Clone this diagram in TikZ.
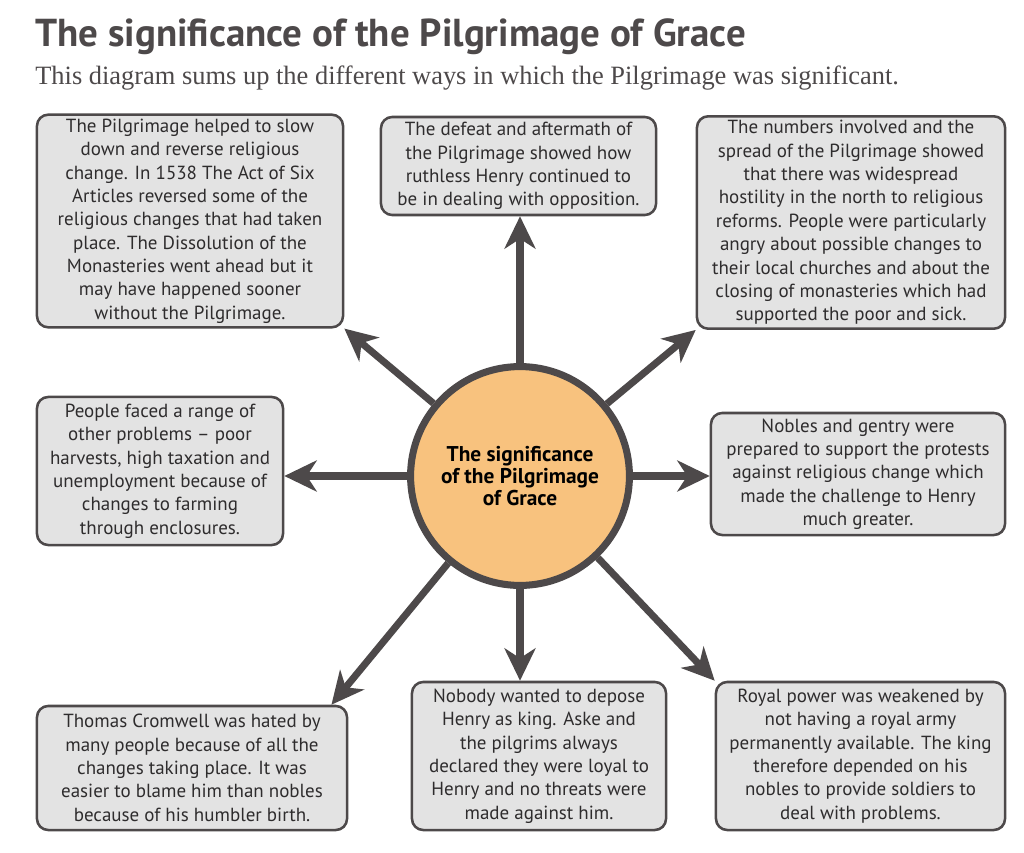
\documentclass[tikz,border=0pt]{standalone}
\usepackage{fontspec}
\setmainfont{PT Sans}
\newfontfamily\subtitlefont{Liberation Serif}
\usetikzlibrary{arrows.meta}

\definecolor{inkgrey}{HTML}{4D494A}
\definecolor{boxgrey}{HTML}{E3E3E3}
\definecolor{hubfill}{HTML}{F8C27E}
\definecolor{textgrey}{HTML}{2E2C2D}

\begin{document}
\begin{tikzpicture}[
  x=0.025cm, y=-0.025cm,
  spoke/.style={-{Stealth[length=23pt, width=22pt, inset=7pt]}, line width=5pt, draw=inkgrey},
  note/.style={
    rectangle,
    rounded corners=8pt,
    draw=inkgrey,
    line width=1.8pt,
    fill=boxgrey,
    align=center,
    inner sep=3pt,
    text=textgrey,
    font=\fontsize{13.5}{16.6}\selectfont
  },
  hub/.style={
    circle,
    draw=inkgrey,
    line width=5pt,
    fill=hubfill,
    minimum size=5.47cm,
    inner sep=0pt,
    align=center,
    text=black,
    font=\fontsize{15.2}{15.8}\selectfont\bfseries
  },
  heading/.style={anchor=base west, inner sep=0pt, text=inkgrey}
]
  \useasboundingbox (0,0) rectangle (1024,853);

  \node[heading, font=\fontsize{27.7}{32}\selectfont\bfseries] (title) at (35,47)
    {The significance of the Pilgrimage of Grace};
  \node[heading, font=\fontsize{18.8}{22}\subtitlefont] (subtitle) at (35,85)
    {This diagram sums up the different ways in which the Pilgrimage was significant.};

  \node[hub] (hub) at (520,476) {The significance\\of the Pilgrimage\\of Grace};

  \node[note, minimum width=7.65cm, minimum height=5.2cm] (religion) at (190,221)
    {The Pilgrimage helped to slow\\down and reverse religious\\change. In 1538 The Act of Six\\Articles reversed some of the\\religious changes that had taken\\place. The Dissolution of the\\Monasteries went ahead but it\\may have happened sooner\\without the Pilgrimage.};
  \node[note, minimum width=6.875cm, minimum height=2.45cm] (defeat) at (518.5,166)
    {The defeat and aftermath of\\the Pilgrimage showed how\\ruthless Henry continued to\\be in dealing with opposition.};
  \node[note, minimum width=7.7cm, minimum height=5.275cm] (hostility) at (851,222.5)
    {The numbers involved and the\\spread of the Pilgrimage showed\\that there was widespread\\hostility in the north to religious\\reforms. People were particularly\\angry about possible changes to\\their local churches and about the\\closing of monasteries which had\\supported the poor and sick.};
  \node[note, minimum width=6.15cm, minimum height=3.7cm] (problems) at (160,471)
    {People faced a range of\\other problems -- poor\\harvests, high taxation and\\unemployment because of\\changes to farming\\through enclosures.};
  \node[note, minimum width=7.35cm, minimum height=3.05cm] (nobles) at (858,474)
    {Nobles and gentry were\\prepared to support the protests\\against religious change which\\made the challenge to Henry\\much greater.};
  \node[note, minimum width=7.75cm, minimum height=3.1cm] (cromwell) at (192,768)
    {Thomas Cromwell was hated by\\many people because of all the\\changes taking place. It was\\easier to blame him than nobles\\because of his humbler birth.};
  \node[note, minimum width=6.35cm, minimum height=3.7cm] (loyalty) at (539,756)
    {Nobody wanted to depose\\Henry as king. Aske and\\the pilgrims always\\declared they were loyal to\\Henry and no threats were\\made against him.};
  \node[note, minimum width=7.225cm, minimum height=3.7cm] (royal) at (860.5,756)
    {Royal power was weakened by\\not having a royal army\\permanently available. The king\\therefore depended on his\\nobles to provide soldiers to\\deal with problems.};

  \draw[spoke] (hub) -- (religion.south east);
  \draw[spoke] (hub) -- (hub |- defeat.south);
  \draw[spoke] (hub) -- (hostility.south west);
  \draw[spoke] (hub) -- (hub -| problems.east);
  \draw[spoke] (hub) -- (hub -| nobles.west);
  \draw[spoke] (hub) -- ([xshift=-12pt]cromwell.north east);
  \draw[spoke] (hub) -- (hub |- loyalty.north);
  \draw[spoke] (hub) -- (royal.north west);
\end{tikzpicture}
\end{document}
